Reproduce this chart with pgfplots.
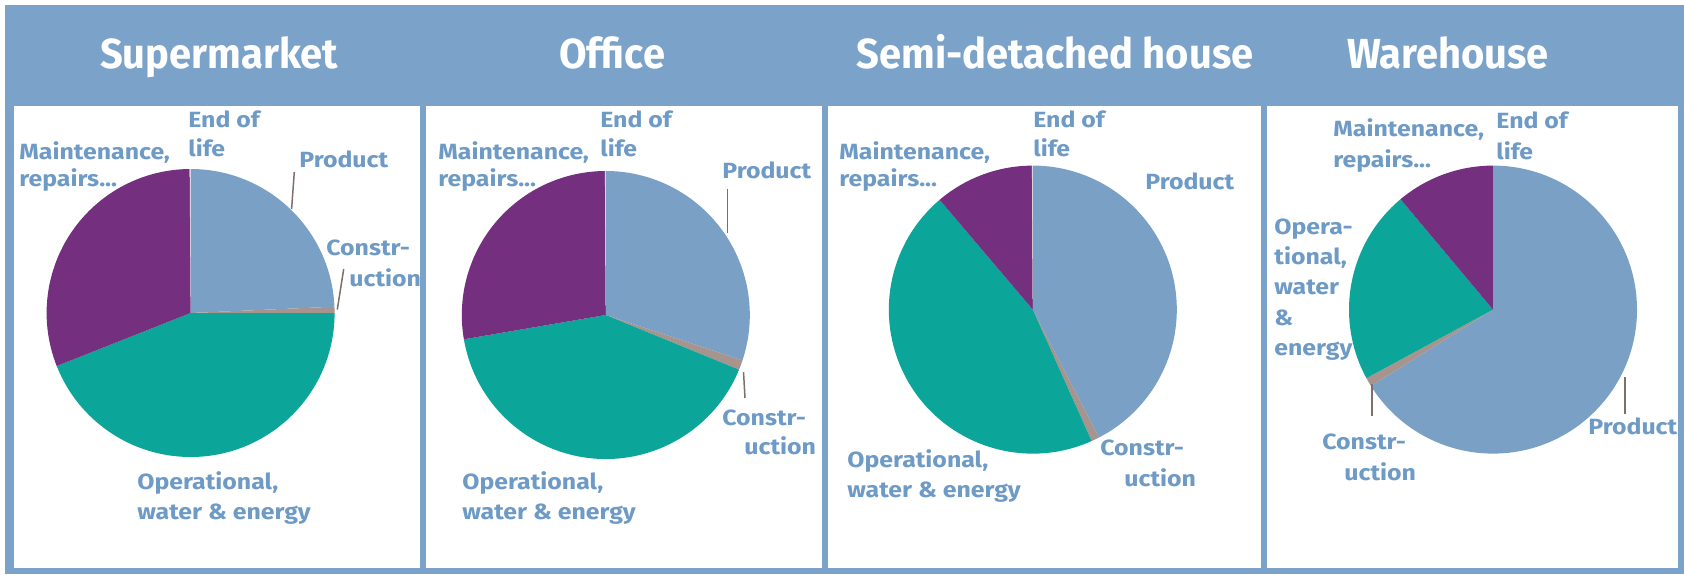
\documentclass[border=0pt]{standalone}
\usepackage{pgfplots}
\pgfplotsset{compat=1.18}
\usepackage{pgfplotstable}
\usepackage{fontspec}
\setmainfont{Fira Sans}
\newfontfamily\titlefont{Fira Sans}[FakeStretch=0.95]
\newfontfamily\labelfont{Fira Sans}[FakeStretch=1.13]

\definecolor{hdr}{HTML}{7BA3CA}
\definecolor{pie0}{HTML}{7AA1C5}% Product
\definecolor{pie1}{HTML}{A8948F}% Construction
\definecolor{pie2}{HTML}{0BA699}% Operational
\definecolor{pie3}{HTML}{74307E}% Maintenance
\definecolor{pie4}{HTML}{D6D2DE}% End of life
\definecolor{lbl}{HTML}{6E9AC6}
\definecolor{leader}{HTML}{7D706C}

% shares in percent, clockwise from the top
\pgfplotstableread{
part value
Product 24.3
Construction 0.7
Operational 44.0
Maintenance 30.9
EndOfLife 0.1
}\supermarket
\pgfplotstableread{
part value
Product 30.1
Construction 1.1
Operational 41.1
Maintenance 27.6
EndOfLife 0.1
}\office
\pgfplotstableread{
part value
Product 42.4
Construction 0.9
Operational 45.5
Maintenance 11.1
EndOfLife 0.1
}\semidetached
\pgfplotstableread{
part value
Product 66.1
Construction 1.0
Operational 21.8
Maintenance 11.1
EndOfLife 0.0
}\warehouse

\newcommand{\drawpie}[1]{%
  \pgfplotstablegetrowsof{#1}%
  \pgfmathtruncatemacro{\lastrow}{\pgfplotsretval-1}%
  \def\angstart{90}%
  \pgfplotsforeachungrouped \i in {0,...,\lastrow}{%
    \pgfplotstablegetelem{\i}{value}\of{#1}%
    \pgfmathsetmacro{\angend}{\angstart-3.6*\pgfplotsretval}%
    \edef\temp{\noexpand\fill[pie\i] (axis cs:0,0) -- ++(\angstart:72pt) arc[start angle=\angstart,end angle=\angend,radius=72pt] -- cycle;}%
    \temp
    \let\angstart\angend
  }%
}

\pgfplotsset{pieaxis/.style={anchor=center, x=72pt, y=72pt,
  xmin=-1, xmax=1, ymin=-1, ymax=1, hide axis, clip=false}}

\begin{document}
\begin{tikzpicture}
\begin{scope}[x=0.5pt,y=-0.5pt]
\path (0,0) rectangle (1684,574);
\fill[hdr] (5,5) rectangle (1684,574);
\fill[white] (14,106) rectangle (420,568);
\fill[white] (426,106) rectangle (822,568);
\fill[white] (828,106) rectangle (1261,568);
\fill[white] (1267,106) rectangle (1678,568);
\end{scope}

\begin{axis}[pieaxis, at={(95.3pt,-156.5pt)}]
\drawpie{\supermarket}
\end{axis}
\begin{axis}[pieaxis, at={(302.9pt,-157.5pt)}]
\drawpie{\office}
\end{axis}
\begin{axis}[pieaxis, at={(516.4pt,-154.8pt)}]
\drawpie{\semidetached}
\end{axis}
\begin{axis}[pieaxis, at={(746.5pt,-154.8pt)}]
\drawpie{\warehouse}
\end{axis}

\begin{scope}[x=0.5pt,y=-0.5pt,
  ttl/.style={anchor=base, inner sep=0pt, text=white, font=\titlefont\bfseries\fontsize{21}{24}\selectfont},
  lb/.style={anchor=base west, inner sep=0pt, text=lbl, font=\labelfont\bfseries\fontsize{11}{13}\selectfont},
  ld/.style={draw=leader, line width=0.75pt}]
% titles
\node[ttl] at (219,68) {Supermarket};
\node[ttl] at (612,68) {Office};
\node[ttl] at (1055,68) {Semi-detached house};
\node[ttl] at (1448,68) {Warehouse};
% Supermarket
\node[lb] at (188,127) {End of};
\node[lb] at (188,156) {life};
\node[lb] at (19,159) {Maintenance,};
\node[lb] at (19,186) {repairs...};
\node[lb] at (299,167) {Product};
\node[lb] at (326,255) {Constr-};
\node[lb] at (349,286) {uction};
\node[lb] at (137,489) {Operational,};
\node[lb] at (137,519) {water \& energy};
\draw[ld] (294.3,172) -- (291.6,209);
\draw[ld] (343.7,269) -- (337.3,309.5);
% Office
\node[lb] at (600,127) {End of};
\node[lb] at (600,156) {life};
\node[lb] at (438,159) {Maintenance,};
\node[lb] at (438,186) {repairs...};
\node[lb] at (722,178) {Product};
\node[lb] at (722,425) {Constr-};
\node[lb] at (744,454.5) {uction};
\node[lb] at (462,489) {Operational,};
\node[lb] at (462,519) {water \& energy};
\draw[ld] (727.7,188.6) -- (727.7,232.6);
\draw[ld] (743.5,372) -- (745,398);
% Semi-detached house
\node[lb] at (1033,127) {End of};
\node[lb] at (1033,156) {life};
\node[lb] at (839,159) {Maintenance,};
\node[lb] at (839,186) {repairs...};
\node[lb] at (1145,189) {Product};
\node[lb] at (1100,455) {Constr-};
\node[lb] at (1124,486) {uction};
\node[lb] at (847,467) {Operational,};
\node[lb] at (847,497) {water \& energy};
% Warehouse
\node[lb] at (1496,128.5) {End of};
\node[lb] at (1496,159.7) {life};
\node[lb] at (1333,136) {Maintenance,};
\node[lb] at (1333,167) {repairs...};
\node[lb] at (1274,234.6) {Opera-};
\node[lb] at (1274,264.6) {tional,};
\node[lb] at (1274,294.6) {water};
\node[lb] at (1274,325.6) {\&};
\node[lb] at (1274,355.3) {energy};
\node[lb] at (1588,434) {Product};
\node[lb] at (1322,449) {Constr-};
\node[lb] at (1344,480) {uction};
\draw[ld] (1625,377) -- (1625,414);
\draw[ld] (1372,384) -- (1372,416);
\end{scope}
\end{tikzpicture}
\end{document}
